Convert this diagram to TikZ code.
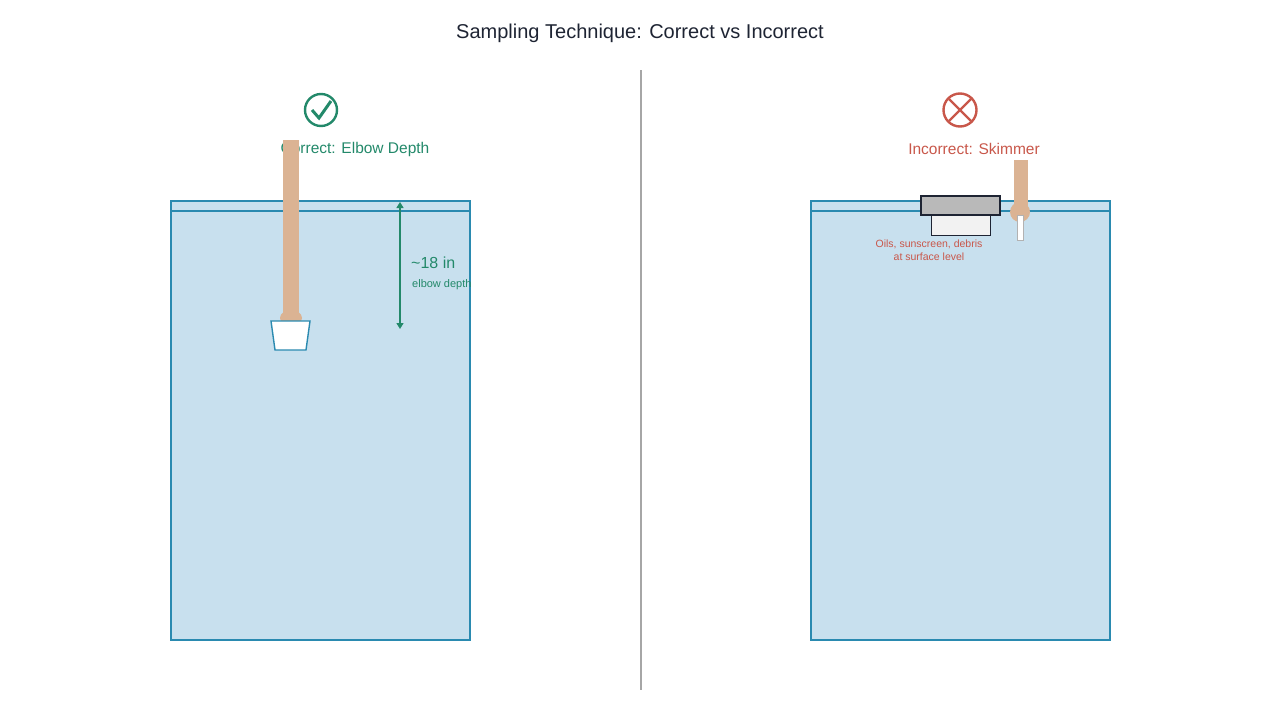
\documentclass[tikz,border=0pt]{standalone}
\usepackage{fontspec}
\setmainfont{Liberation Sans}
\usetikzlibrary{arrows.meta}
\definecolor{water}{HTML}{C8E0EE}
\definecolor{poolblue}{HTML}{2A8AB0}
\definecolor{okgreen}{HTML}{23896A}
\definecolor{badred}{HTML}{C8574A}
\definecolor{skin}{HTML}{DBB393}
\definecolor{ink}{HTML}{1E2433}
\tikzset{
  pool/.style={draw=poolblue, line width=1.6pt, fill=water},
  arm/.style={fill=skin, draw=none},
  lbl/.style={inner sep=0pt, font=\fontsize{13}{15}\selectfont}
}
\begin{document}
\begin{tikzpicture}[x=1pt, y=-1pt]
    \useasboundingbox (0,0) rectangle (1280,720);
    \node[text=ink, font=\fontsize{20}{24}\selectfont] (title) at (640,33) {Sampling Technique: Correct vs Incorrect};
    \draw[gray!70, line width=1.2pt] (641,70) -- (641,690);

    % correct side
    \draw[pool] (171,201) rectangle (470,640);
    \draw[poolblue, line width=1.6pt] (171,211) -- (470,211);
    \draw[okgreen, line width=2.4pt] (321,110) circle (16);
    \draw[okgreen, line width=3pt] (312,110) -- (319,118) -- (331,101);
    \node[text=okgreen, font=\fontsize{15.5}{18}\selectfont] (ok) at (355,149) {Correct: Elbow Depth};
    \fill[arm] (283,140) rectangle (299,316);
    \fill[arm] (291,318) ellipse (11 and 8);
    \draw[poolblue, line width=1.4pt, fill=white] (271,321) -- (310,321) -- (306,350) -- (275,350) -- cycle;
    \coordinate (top) at (400,202);
    \coordinate (elbow) at (400,329);
    \draw[okgreen, line width=1.4pt, {Triangle[width=7pt,length=6pt]}-{Triangle[width=7pt,length=6pt]}] (top) -- (elbow);
    \node[lbl, text=okgreen, anchor=west, font=\fontsize{16}{18}\selectfont] (depth) at (411,263) {\textasciitilde18 in};
    \node[lbl, text=okgreen, anchor=west, font=\fontsize{11}{13}\selectfont] (elb) at (412,285) {elbow depth};

    % incorrect side
    \draw[pool] (811,201) rectangle (1110,640);
    \draw[poolblue, line width=1.6pt] (811,211) -- (1110,211);
    \draw[badred, line width=2.4pt] (960,110) circle (16.5);
    \draw[badred, line width=2.4pt] (949,99) -- (971,121) (971,99) -- (949,121);
    \node[text=badred, font=\fontsize{15.5}{18}\selectfont] (bad) at (974,149) {Incorrect: Skimmer};
    \draw[ink, line width=0.8pt, fill=gray!10] (931,215) rectangle (990,235);
    \draw[ink, line width=1.6pt, fill=gray!55] (921,196) rectangle (1000,215);
    \fill[arm] (1014,160) rectangle (1028,210);
    \fill[arm] (1020,212) circle (10);
    \draw[gray!60, line width=0.8pt, fill=white] (1017,215) rectangle (1023,240);
    \node[lbl, text=badred, font=\fontsize{10.5}{13}\selectfont, align=center] (oil) at (929,250) {Oils, sunscreen, debris\\at surface level};
\end{tikzpicture}
\end{document}
